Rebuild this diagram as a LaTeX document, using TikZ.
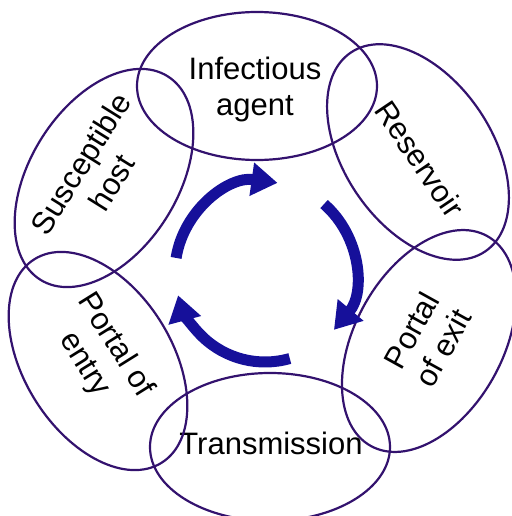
\documentclass[tikz,border=0pt]{standalone}
\usepackage{fontspec}
\setmainfont{Liberation Sans}
\usetikzlibrary{arrows.meta, calc}
\definecolor{ringPurple}{HTML}{33126E}
\definecolor{cycleBlue}{HTML}{16109A}
\tikzset{
  ring/.style  = {draw=ringPurple, line width=1.1pt},
  stage/.style = {align=center, inner sep=0pt,
                  font=\fontsize{15.5}{18}\selectfont},
  turn/.style  = {-{Triangle[length=13pt, width=16pt]}, draw=cycleBlue,
                  line width=5.5pt}
}
\begin{document}
\begin{tikzpicture}[x=0.5pt, y=0.5pt]
  \useasboundingbox (0,0) rectangle (512,516);
  % six links of the chain, clockwise from the top
  % ellipse centre, tilt, then where its words sit
  \foreach \name/\x/\y/\a/\tx/\ty/\txt in {
      agent/257/430/0/255/427/Infectious\\agent,
      reservoir/418/364/-56/420/357/Reservoir,
      exit/429/175/61/427/177/Portal\\of exit,
      transmission/270/69/0/271/73/Transmission,
      entry/98/155/-58/100/161/Portal of\\entry,
      host/104/338/58/96/343/Susceptible\\host}{
    \draw[ring, rotate around={\a:(\x,\y)}] (\x,\y) ellipse [x radius=120, y radius=74];
    \node[stage, rotate=\a] (\name) at (\tx,\ty) {\txt};
  }
  % cycle arrows in the middle
  \coordinate (hub) at (265,244);
  \foreach \s/\e in {171/82, 49/-40, -74/-165}{
    \draw[turn] ($(hub)+(\s:90)$) arc[start angle=\s, end angle=\e, radius=90];
  }
\end{tikzpicture}
\end{document}
